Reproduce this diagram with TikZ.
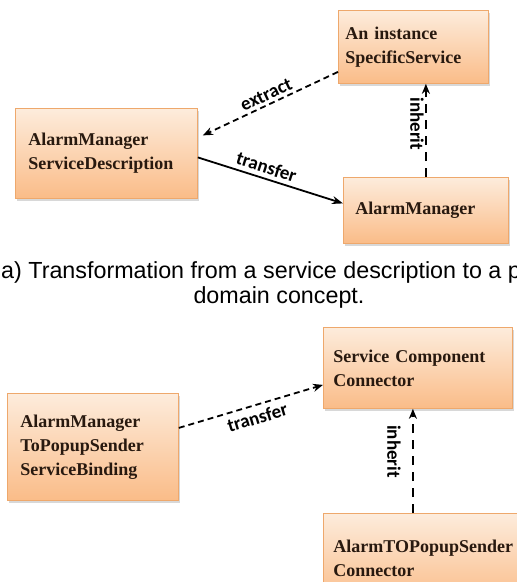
\documentclass[tikz,border=0pt]{standalone}
\usepackage{fontspec}
\newfontfamily\boxfont{Liberation Serif}
\newfontfamily\capfont{Liberation Sans}
\newfontfamily\lblfont{Carlito}
\usetikzlibrary{arrows.meta,positioning,shadows}
\definecolor{boxTop}{RGB}{253,236,220}
\definecolor{boxBot}{RGB}{250,188,136}
\definecolor{boxEdge}{RGB}{238,168,108}
\definecolor{boxText}{RGB}{40,25,15}

\begin{document}
\begin{tikzpicture}[x=1pt, y=-1pt,
    box/.style={draw=boxEdge, line width=0.8pt, top color=boxTop, bottom color=boxBot,
      anchor=north west, align=left, inner ysep=0pt, text=boxText,
      font=\boxfont\bfseries\fontsize{18}{24}\selectfont,
      drop shadow={shadow xshift=2pt, shadow yshift=-3pt, opacity=0.3}},
    lbl/.style={font=\lblfont\bfseries\fontsize{19}{22}\selectfont, inner sep=1pt},
    captext/.style={font=\capfont\fontsize{23.3}{25}\selectfont, inner sep=0pt},
    dashlink/.style={line width=1.8pt, dash pattern=on 6pt off 4pt, -{Stealth[length=10pt,width=8pt]}},
    solidlink/.style={line width=1.8pt, -{Stealth[length=11pt,width=8pt]}},
    inhlink/.style={line width=2.2pt, dash pattern=on 9pt off 7pt, -{Stealth[length=10pt,width=8pt]}}]
    % page and crop
    \fill[white] (0,0) rectangle (517,582);
    \useasboundingbox (0,0) rectangle (517,582);
    \clip (0,0) rectangle (517,582);

    % (a) service description -> platform concept
    \node[box, inner xsep=7pt, text width=136pt, minimum height=73pt] (inst) at (338,10)
      {An instance\\SpecificService};
    \node[box, inner xsep=13pt, text width=156pt, minimum height=90pt] (desc) at (15,108)
      {AlarmManager\\ServiceDescription};
    \node[box, inner xsep=12pt, text width=141pt, minimum height=66pt] (mgr) at (343,177)
      {AlarmManager};

    \draw[dashlink] ([yshift=-25pt]inst.west) -- ([xshift=5pt,yshift=18pt]desc.east)
      node[lbl, midway, sloped, above=2pt] (extract) {extract};
    \draw[solidlink] ([yshift=-4pt]desc.east) -- ([yshift=7pt]mgr.west)
      node[lbl, pos=0.45, sloped, above=3pt] (xfer) {transfer};
    \draw[inhlink] (mgr.north) -- (mgr.north |- inst.south)
      node[lbl, pos=0.57, rotate=-90, anchor=north, inner sep=1pt] (inh) {inherit};

    % caption
    \node[captext, anchor=base west] (capa) at (1,278)
      {a) Transformation from a service description to a p};
    \node[captext, anchor=base] (capb) at (279,303) {domain concept.};

    % (b) binding -> connector
    \node[box, inner xsep=10pt, text width=169pt, minimum height=81pt] (scc) at (323,327)
      {Service Component\\Connector};
    \node[box, inner xsep=13pt, text width=145pt, minimum height=107pt] (bind) at (7,393)
      {AlarmManager\\ToPopupSender\\ServiceBinding};
    \node[box, inner xsep=10pt, text width=200pt, minimum height=90pt] (conn) at (323,513)
      {AlarmTOPopupSender\\Connector};

    \draw[dashlink] ([yshift=19pt]bind.east) -- ([yshift=-17pt]scc.west)
      node[lbl, pos=0.52, sloped, below=4pt] (xfer2) {transfer};
    \coordinate (sccfoot) at ([xshift=-5pt]scc.south);
    \draw[inhlink] (sccfoot |- conn.north) -- (sccfoot)
      node[lbl, pos=0.59, rotate=-90, anchor=north, inner sep=11pt] (inh2) {inherit};
\end{tikzpicture}
\end{document}
